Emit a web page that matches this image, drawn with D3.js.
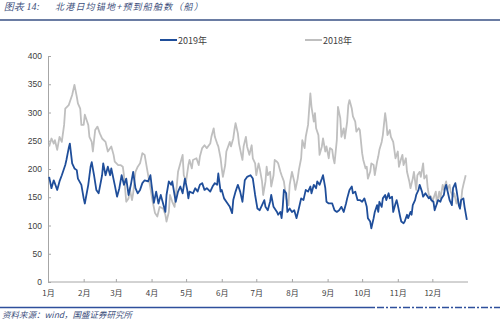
<!DOCTYPE html>
<html><head><meta charset="utf-8">
<script src="https://cdn.jsdelivr.net/npm/d3@7"></script>
<style>body{margin:0;background:#fff;}svg{display:block;}</style>
</head><body>
<svg id="c" width="500" height="322"></svg>
<script>
const monthLabels = ["1月","2月","3月","4月","5月","6月","7月","8月","9月","10月","11月","12月"];
const monthStartDays = [0,31,59,90,120,151,181,212,243,273,304,334];
const yTicks = [0,50,100,150,200,250,300,350,400];

const days2019 = [1,3,5,8,10,12,15,16,18,19,21,23,25,26,29,31,32,35,37,38,40,42,44,47,48,50,52,54,55,58,60,62,64,66,68,70,72,74,76,78,80,82,84,87,
89,90,92,94,96,98,100,102,103,105,107,108,110,111,113,115,117,119,121,122,123,126,128,130,132,134,136,138,141,143,145,147,148,150,151,153,155,158,160,161,163,165,167,169,171,173,176,178,
180,182,184,186,188,189,191,193,194,196,197,199,200,202,203,204,205,207,208,210,212,214,216,218,220,222,224,226,228,229,231,233,234,236,238,239,241,242,244,247,249,251,253,255,257,259,260,262,264,265,267,269,
271,273,275,277,278,280,281,283,284,286,287,288,290,291,293,294,296,297,299,300,302,303,304,306,307,309,310,312,313,315,316,317,319,320,322,323,325,326,328,329,331,332,333,335,336,338,339,341,342,344,345,346,348,349,351,352,354,355,357,358,359,361,362,364];
const vals2019 = [186,166,180,163,178,189,207,216,237,245,210,201,198,183,172,148,139,172,204,212,189,163,157,189,210,189,204,189,201,172,151,166,189,172,183,154,172,195,166,157,163,175,180,178,
189,172,140,160,139,154,139,124,154,178,172,178,154,142,160,169,157,183,163,148,160,157,166,160,172,175,163,166,160,169,175,172,192,160,163,148,142,133,122,145,160,172,160,142,180,186,189,183,
154,130,127,136,145,133,127,142,154,133,130,124,119,124,113,133,163,157,124,130,124,127,113,130,148,145,163,160,169,157,172,166,178,172,183,189,166,142,139,139,127,124,127,133,124,139,148,163,169,157,160,145,
145,142,148,133,113,107,95,113,124,136,124,142,133,148,154,145,157,148,151,124,139,145,136,116,107,104,107,119,113,124,119,136,145,154,163,172,160,151,157,154,148,151,145,142,127,139,145,142,148,154,166,172,154,145,136,166,175,163,136,130,145,148,133,110];

const days2018 = [1,3,5,6,8,10,12,14,15,18,19,21,23,25,26,28,29,31,32,35,36,38,39,41,43,45,47,50,52,55,57,58,61,63,65,66,68,70,71,73,74,76,78,80,82,84,86,88,
89,91,93,95,97,100,102,103,105,106,108,110,112,113,115,117,118,120,122,123,125,126,129,131,132,134,136,138,141,142,144,145,147,148,150,151,152,154,155,158,159,161,162,163,165,166,168,169,170,172,173,175,177,178,
180,181,183,184,186,187,189,190,191,193,194,196,197,199,200,202,203,205,206,207,209,210,212,214,215,217,218,220,221,223,224,226,227,228,229,231,232,233,235,236,238,239,241,242,244,245,247,248,249,251,252,254,255,257,258,260,261,262,264,265,267,268,270,
271,273,274,276,277,278,280,281,283,284,286,287,288,290,291,293,294,295,297,298,300,301,302,304,305,307,308,309,311,312,314,315,317,318,320,321,323,324,326,327,329,330,331,333,334,335,337,338,340,341,343,344,346,347,349,350,352,353,355,356,358,359,360,361,363];
const vals2018 = [240,254,245,251,234,257,248,278,307,313,319,331,349,328,316,307,278,278,296,278,257,248,231,269,275,263,254,248,231,240,225,213,207,207,204,189,142,148,166,145,157,195,204,210,228,225,201,178,
166,142,122,116,133,130,119,107,124,154,142,133,172,195,210,225,189,178,207,216,201,216,219,207,222,237,242,237,245,257,272,257,245,240,219,201,186,207,231,248,240,254,269,281,263,245,225,216,240,257,240,225,242,219,
210,189,210,201,178,154,178,204,189,195,169,189,216,213,210,195,189,178,163,148,136,172,195,178,163,183,198,219,251,237,257,278,307,334,310,284,299,272,260,225,240,254,231,240,219,237,234,219,210,251,310,290,257,272,254,284,313,322,307,293,284,266,272,
269,228,216,201,204,183,195,210,207,189,213,222,234,248,260,299,284,260,269,257,248,234,219,231,204,219,225,207,219,195,178,166,183,195,163,189,195,186,210,183,189,166,154,151,142,148,160,139,160,148,172,163,178,163,172,160,151,157,139,148,130,142,163,172,189];

const svg = d3.select("#c");
const x = d3.scaleLinear().domain([0,365]).range([48,468]);
const y = d3.scaleLinear().domain([0,400]).range([282,56]);
const cjk = "'Noto Sans CJK SC','Microsoft YaHei',sans-serif";

// title
svg.append("text").attr("x",4).attr("y",10).attr("font-family","'Liberation Serif',serif").attr("font-size",10)
  .attr("font-style","italic").attr("fill","#3d4f7c").text("图表 14:");
svg.append("text").attr("x",55).attr("y",10).attr("font-family",cjk).attr("font-size",9)
  .attr("letter-spacing",1.2).attr("font-style","italic").attr("fill","#3d4f7c").text("北港日均锚地+预到船舶数（船）");
svg.append("line").attr("x1",0).attr("x2",500).attr("y1",20).attr("y2",20)
  .attr("stroke","#6a7ca3").attr("stroke-width",2);

// axes
const yAxis = d3.axisLeft(y).tickValues(yTicks).tickSize(-3).tickPadding(6);
const gy = svg.append("g").attr("transform","translate(48,0)").call(yAxis);
gy.select(".domain").attr("stroke","#a6a6a6");
gy.selectAll(".tick line").attr("stroke","#a6a6a6");
gy.selectAll("text").attr("font-family","'Liberation Sans',Arial,sans-serif").attr("font-size",8.5).attr("fill","#404040");

const xAxis = d3.axisBottom(x).tickValues(monthStartDays).tickSize(-3).tickPadding(8)
  .tickFormat((d,i)=>monthLabels[i]);
const gx = svg.append("g").attr("transform","translate(0,282)").call(xAxis);
gx.select(".domain").attr("stroke","#a6a6a6").attr("d","M48,0H468");
gx.selectAll(".tick line").attr("stroke","#a6a6a6");
gx.selectAll("text").attr("font-family",cjk).attr("font-size",8).attr("fill","#404040");

// lines
const line = d3.line().x(d=>x(d[0])).y(d=>y(d[1]));
const s2018 = days2018.map((d,i)=>[d,vals2018[i]]);
const s2019 = days2019.map((d,i)=>[d,vals2019[i]]);
svg.append("path").datum(s2018).attr("d",line).attr("fill","none")
  .attr("stroke","#bfbfbf").attr("stroke-width",1.8).attr("stroke-linejoin","round");
svg.append("path").datum(s2019).attr("d",line).attr("fill","none")
  .attr("stroke","#1f4e9a").attr("stroke-width",1.8).attr("stroke-linejoin","round");

// legend
const leg = [{name:"2019年",color:"#1f4e9a",x:160},{name:"2018年",color:"#bfbfbf",x:305}];
leg.forEach(l=>{
  svg.append("line").attr("x1",l.x).attr("x2",l.x+17).attr("y1",40).attr("y2",40)
    .attr("stroke",l.color).attr("stroke-width",2);
  svg.append("text").attr("x",l.x+18).attr("y",43.5).attr("font-family",cjk).attr("font-size",9)
    .attr("fill","#404040").text(l.name);
});

// footer
svg.append("line").attr("x1",0).attr("x2",375).attr("y1",307.5).attr("y2",307.5)
  .attr("stroke","#2e4f9c").attr("stroke-width",1.5);
svg.append("line").attr("x1",377).attr("x2",500).attr("y1",307.5).attr("y2",307.5)
  .attr("stroke","#2e4f9c").attr("stroke-width",1.5).attr("stroke-dasharray","7,2,2,2");
svg.append("text").attr("x",2).attr("y",318).attr("font-family",cjk).attr("font-size",8.5)
  .attr("font-style","italic").attr("fill","#3d4f7c").text("资料来源：wind，国盛证券研究所");
</script>
</body></html>
